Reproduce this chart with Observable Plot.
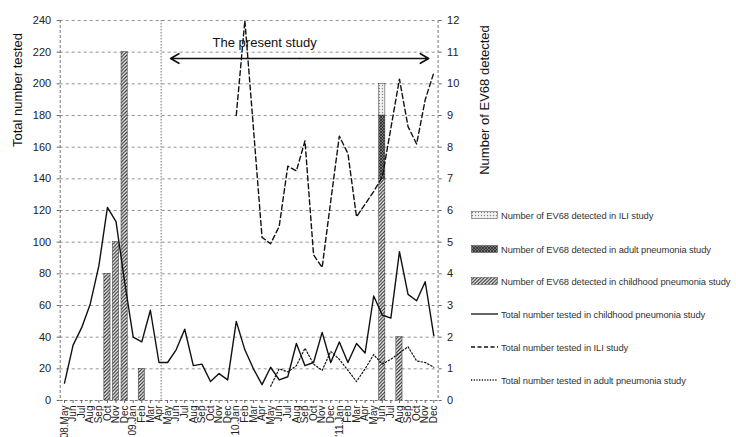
<!DOCTYPE html>
<html><head><meta charset="utf-8">
<script src="https://cdn.jsdelivr.net/npm/d3@7"></script>
<script src="https://cdn.jsdelivr.net/npm/@observablehq/plot@0.6"></script>
<style>
body{margin:0;background:#fff;font-family:"Liberation Sans",Arial,sans-serif;}
#wrap{position:relative;width:736px;height:437px;overflow:hidden;}
#legend{position:absolute;left:0;top:0;font-size:9.4px;letter-spacing:-0.1px;color:#333;}
.row{position:absolute;left:471px;white-space:nowrap;display:flex;align-items:center;height:12px;}
.row svg{margin-right:3px;}
</style></head><body><div id="wrap"><div id="legend"></div></div>
<script>
// x tick labels (one per month, May 2008 – Dec 2011)
const monthLabels = ["08.May","Jun","Jul","Aug","Sep","Oct","Nov","Dec",
  "09.Jan","Feb","Mar","Apr","May","Jun","Jul","Aug","Sep","Oct","Nov","Dec",
  "10.Jan","Feb","Mar","Apr","May","Jun","Jul","Aug","Sep","Oct","Nov","Dec",
  "'11.Jan","Feb","Mar","Apr","May","Jun","Jul","Aug","Sep","Oct","Nov","Dec"];

// Total number tested in childhood pneumonia study (May 2008 – Dec 2011)
const childTotal = [11,35,46,61,85,122,113,75,
  40,37,57,24,24,32,45,22,23,12,17,13,
  50,32,20,10,21,13,15,36,22,24,43,24,
  37,24,36,30,66,54,52,94,67,63,75,41];
// Total number tested in ILI study (Jan 2010 – Dec 2011)
const iliStart = 20;
const iliTotal = [180,240,172,103,99,110,148,145,164,92,84,126,
  167,156,116,124,132,141,172,203,173,162,190,207];
// Total number tested in adult pneumonia study (May 2010 – Dec 2011)
const adultStart = 24;
const adultTotal = [9,20,18,22,33,23,19,31,
  26,19,12,20,29,23,26,30,34,25,24,21];

// Number of EV68 detected (right axis), by month index
const evMonthIdx = [5,6,7,9,37,39];
const evChild = [4,5,11,1,7,2];
const evAdult = [0,0,0,0,2,0];
const evILI   = [0,0,0,0,1,0];

const leftTicks = [0,20,40,60,80,100,120,140,160,180,200,220,240];
const rightMax = 12, leftMax = 240;
const ratio = leftMax / rightMax;

const studyStartIdx = 11.25;   // vertical dotted line (Apr 2009)
const arrowSpan = [12.35, 42.4];
const arrowY = 216;
const annText = "The present study";
const annPos = {x: 23.3, y: 226};

const child = childTotal.map((v,i)=>({i, v}));
const ili = iliTotal.map((v,k)=>({i:k+iliStart, v}));
const adult = adultTotal.map((v,k)=>({i:k+adultStart, v}));

const bars = [];
evMonthIdx.forEach((m,k)=>{
  const c = evChild[k], a = evAdult[k], l = evILI[k];
  bars.push({i:m, y1:0, y2:c*ratio, fill:"url(#pChild)"});
  if (a) bars.push({i:m, y1:c*ratio, y2:(c+a)*ratio, fill:"url(#pAdult)"});
  if (l) bars.push({i:m, y1:(c+a)*ratio, y2:(c+a+l)*ratio, fill:"url(#pILI)"});
});
const bw = 0.36;
const mid = (arrowSpan[0]+arrowSpan[1])/2;

const plot = Plot.plot({
  width: 736, height: 437,
  marginLeft: 59.7, marginRight: 298.4, marginTop: 20, marginBottom: 37,
  style: {fontFamily: '"Liberation Sans", Arial, sans-serif', fontSize: "11px", color: "#222", background: "#fff"},
  x: {type: "linear", domain: [-0.5, 43.5]},
  y: {domain: [0, 240]},
  marks: [
    Plot.gridY(leftTicks.filter(d=>d>0), {stroke: "#777", strokeOpacity: 1, strokeWidth: 0.8, strokeDasharray: "3,3"}),
    Plot.ruleX([studyStartIdx], {stroke: "#666", strokeWidth: 0.9, strokeDasharray: "1.5,1.5"}),
    Plot.ruleX([-0.5, 43.5], {stroke: "#666", strokeWidth: 0.9, strokeDasharray: "3,2"}),
    Plot.rect(bars, {x1: d=>d.i-bw, x2: d=>d.i+bw, y1:"y1", y2:"y2", fill: d=>d.fill, stroke:"#333", strokeWidth:0.5}),
    Plot.line(child, {x:"i", y:"v", stroke:"#111", strokeWidth:1.4}),
    Plot.line(ili, {x:"i", y:"v", stroke:"#111", strokeWidth:1.4, strokeDasharray:"5,3"}),
    Plot.line(adult, {x:"i", y:"v", stroke:"#111", strokeWidth:1.2, strokeDasharray:"1.5,2"}),
    Plot.arrow([{x1:mid, x2:arrowSpan[0]},{x1:mid, x2:arrowSpan[1]}], {x1:"x1", x2:"x2", y1:arrowY, y2:arrowY, stroke:"#111", strokeWidth:1.6, headLength:9}),
    Plot.text([annPos], {x:"x", y:"y", text: ()=>annText, fontSize: 13, fill:"#111"}),
    Plot.ruleY([0], {stroke:"#666", strokeWidth:0.9, strokeDasharray:"3,2"}),
    Plot.axisX(d3.range(monthLabels.length), {tickFormat: i=>monthLabels[i], tickRotate: -90, tickSize: 3, tickPadding: 2, fontSize: 10, label: null, stroke:"#666"}),
    Plot.axisY(leftTicks, {anchor:"left", tickSize: 3, tickPadding: 6, label: null, fontSize: 11, stroke:"#666"}),
    Plot.axisY(leftTicks, {anchor:"right", tickFormat: d=>d/ratio, tickSize: 3, tickPadding: 6, label: null, fontSize: 11, stroke:"#666"})
  ]
});

const svg = d3.select(plot);
const defs = svg.insert("defs", ":first-child");
const p1 = defs.append("pattern").attr("id","pChild").attr("patternUnits","userSpaceOnUse").attr("width",3.5).attr("height",3.5);
p1.append("rect").attr("width",3.5).attr("height",3.5).attr("fill","#fff");
p1.append("path").attr("d","M-1,1 L1,-1 M0,3.5 L3.5,0 M2.5,4.5 L4.5,2.5").attr("stroke","#222").attr("stroke-width",1.1);
const p2 = defs.append("pattern").attr("id","pAdult").attr("patternUnits","userSpaceOnUse").attr("width",3).attr("height",3);
p2.append("rect").attr("width",3).attr("height",3).attr("fill","#777");
p2.append("path").attr("d","M0,0 L3,3 M3,0 L0,3").attr("stroke","#222").attr("stroke-width",0.7);
const p3 = defs.append("pattern").attr("id","pILI").attr("patternUnits","userSpaceOnUse").attr("width",3).attr("height",3);
p3.append("rect").attr("width",3).attr("height",3).attr("fill","#f2f2f2");
p3.append("circle").attr("cx",1.5).attr("cy",1.5).attr("r",0.7).attr("fill","#888");

svg.append("text").attr("transform","translate(22,90) rotate(-90)").attr("text-anchor","middle")
  .attr("font-size",13).attr("fill","#111").text("Total number tested");
svg.append("text").attr("transform","translate(489,100) rotate(-90)").attr("text-anchor","middle")
  .attr("font-size",13).attr("fill","#111").text("Number of EV68 detected");

document.getElementById("wrap").prepend(plot);
plot.style.position = "absolute"; plot.style.left = "0"; plot.style.top = "0";

const legendItems = [
  {t:"Number of EV68 detected in ILI study", kind:"rect", fill:"url(#pILI)"},
  {t:"Number of EV68 detected in adult pneumonia study", kind:"rect", fill:"url(#pAdult)"},
  {t:"Number of EV68 detected in childhood pneumonia study", kind:"rect", fill:"url(#pChild)"},
  {t:"Total number tested in childhood pneumonia study", kind:"line", dash:null},
  {t:"Total number tested in ILI study", kind:"line", dash:"4,2.5"},
  {t:"Total number tested in adult pneumonia study", kind:"line", dash:"1.2,1.5"}
];
const legendY = [215, 249, 281, 314, 347, 380];
const lg = document.getElementById("legend");
legendItems.forEach((it,k)=>{
  const row = document.createElement("div");
  row.className = "row";
  row.style.top = (legendY[k]-6) + "px";
  let sw;
  if (it.kind === "rect") {
    sw = `<svg width="27" height="8"><rect x="0.5" y="0.5" width="26" height="7" fill="${it.fill}" stroke="#444" stroke-width="0.5"/></svg>`;
  } else {
    sw = `<svg width="27" height="8"><line x1="0" x2="27" y1="4" y2="4" stroke="#111" stroke-width="1.3" ${it.dash?`stroke-dasharray="${it.dash}"`:""}/></svg>`;
  }
  row.innerHTML = sw + `<span>${it.t}</span>`;
  lg.appendChild(row);
});
</script></body></html>
